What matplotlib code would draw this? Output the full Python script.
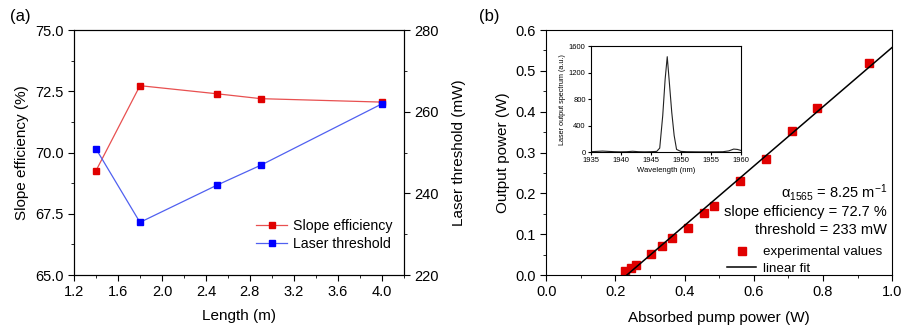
import matplotlib
matplotlib.use('Agg')
import matplotlib.pyplot as plt
import numpy as np
from matplotlib.ticker import MultipleLocator

plt.rcParams['font.family'] = ['Liberation Sans', 'DejaVu Sans']

# panel (a) data
length_m = [1.4, 1.8, 2.5, 2.9, 4.0]
slope_eff = [69.26, 72.73, 72.40, 72.20, 72.06]
threshold_mw = [250.9, 232.9, 242.0, 246.9, 261.9]

# panel (b) data
pump_w = [0.228, 0.244, 0.259, 0.304, 0.334, 0.364, 0.409, 0.455, 0.485,
          0.559, 0.634, 0.709, 0.784, 0.934]
output_w = [0.009, 0.017, 0.025, 0.052, 0.072, 0.090, 0.115, 0.151, 0.170,
            0.230, 0.285, 0.353, 0.410, 0.520]
fit_slope = 0.727
fit_threshold = 0.233

# inset spectrum
wl_nm = [1935, 1936, 1937, 1938, 1939, 1940, 1941, 1942, 1943, 1944, 1945,
         1946, 1946.5, 1947, 1947.4, 1947.75, 1948.1, 1948.5, 1948.9, 1949.3,
         1950, 1951, 1953, 1955, 1957, 1958, 1958.8, 1959.4, 1960]
spec = [5, 10, 15, 10, 5, 3, 5, 12, 5, 3, 5,
        10, 60, 550, 1100, 1440, 1050, 600, 250, 40,
        10, 5, 3, 3, 5, 18, 45, 40, 25]

fig = plt.figure(figsize=(9.03, 3.27), dpi=100)

# ---- panel (a)
ax1 = fig.add_axes([0.082, 0.159, 0.365, 0.749])
ax2 = ax1.twinx()
l1, = ax1.plot(length_m, slope_eff, '-', color='#e85050', lw=0.9,
               marker='s', ms=5, mfc='#e00000', mec='#e00000', label='Slope efficiency')
l2, = ax2.plot(length_m, threshold_mw, '-', color='#5060f0', lw=0.9,
               marker='s', ms=5, mfc='#0000ff', mec='#0000ff', label='Laser threshold')
ax1.set_xlim(1.2, 4.2)
ax1.set_ylim(65, 75)
ax2.set_ylim(220, 280)
ax1.xaxis.set_major_locator(MultipleLocator(0.4))
ax1.xaxis.set_minor_locator(MultipleLocator(0.2))
ax1.yaxis.set_major_locator(MultipleLocator(2.5))
ax1.yaxis.set_minor_locator(MultipleLocator(1.25))
ax2.yaxis.set_major_locator(MultipleLocator(20))
ax2.yaxis.set_minor_locator(MultipleLocator(10))
ax1.xaxis.set_major_formatter(matplotlib.ticker.FormatStrFormatter('%.1f'))
ax1.yaxis.set_major_formatter(matplotlib.ticker.FormatStrFormatter('%.1f'))
for a in (ax1, ax2):
    a.tick_params(which='both', direction='out', labelsize=10.5)
    a.tick_params(which='major', length=4)
    a.tick_params(which='minor', length=2.5)
ax1.set_xlabel('Length (m)', fontsize=11, labelpad=7)
ax1.set_ylabel('Slope efficiency (%)', fontsize=11)
ax2.set_ylabel('Laser threshold (mW)', fontsize=11, labelpad=10)
ax1.legend(handles=[l1, l2], loc='lower right', bbox_to_anchor=(1.005, 0.045),
           frameon=False, fontsize=10.2, handlelength=2.2, handletextpad=0.4,
           labelspacing=0.3)
fig.text(0.011, 0.935, '(a)', fontsize=12)

# ---- panel (b)
ax3 = fig.add_axes([0.605, 0.159, 0.383, 0.749])
ax3.plot(pump_w, output_w, 's', color='#e00000', ms=6, label='experimental values')
fx = np.array([fit_threshold, 1.0])
ax3.plot(fx, fit_slope * (fx - fit_threshold), '-', color='black', lw=1.1,
         label='linear fit')
ax3.set_xlim(0, 1.0)
ax3.set_ylim(0, 0.6)
ax3.xaxis.set_major_locator(MultipleLocator(0.2))
ax3.xaxis.set_minor_locator(MultipleLocator(0.1))
ax3.yaxis.set_major_locator(MultipleLocator(0.1))
ax3.yaxis.set_minor_locator(MultipleLocator(0.05))
ax3.xaxis.set_major_formatter(matplotlib.ticker.FormatStrFormatter('%.1f'))
ax3.yaxis.set_major_formatter(matplotlib.ticker.FormatStrFormatter('%.1f'))
ax3.tick_params(which='both', direction='out', labelsize=10.5)
ax3.tick_params(which='major', length=4)
ax3.tick_params(which='minor', length=2.5)
ax3.set_xlabel('Absorbed pump power (W)', fontsize=11, labelpad=8)
ax3.set_ylabel('Output power (W)', fontsize=11)
ax3.text(0.985, 0.335, r'$\mathregular{\alpha_{1565}}$ = 8.25 m$\mathregular{^{-1}}$',
         transform=ax3.transAxes, ha='right', va='center', fontsize=10.5)
ax3.text(0.985, 0.258, 'slope efficiency = 72.7 %', transform=ax3.transAxes,
         ha='right', va='center', fontsize=10.5)
ax3.text(0.985, 0.182, 'threshold = 233 mW', transform=ax3.transAxes,
         ha='right', va='center', fontsize=10.5)
ax3.legend(loc='lower right', bbox_to_anchor=(1.006, -0.048), frameon=False,
           fontsize=9.6, handlelength=2.2, handletextpad=0.5, labelspacing=0.3)
fig.text(0.531, 0.935, '(b)', fontsize=12)

# inset
ax4 = fig.add_axes([0.654, 0.535, 0.1665, 0.324])
ax4.plot(wl_nm, spec, '-', color='#222222', lw=0.8)
ax4.set_xlim(1935, 1960)
ax4.set_ylim(0, 1600)
ax4.xaxis.set_major_locator(MultipleLocator(5))
ax4.yaxis.set_major_locator(MultipleLocator(400))
ax4.tick_params(which='both', direction='out', labelsize=5.5, length=2, pad=1.5)
ax4.set_xlabel('Wavelength (nm)', fontsize=5.5, labelpad=2)
ax4.set_ylabel('Laser output spectrum (a.u.)', fontsize=5.2, labelpad=2)

fig.savefig('out.png', dpi=100)
